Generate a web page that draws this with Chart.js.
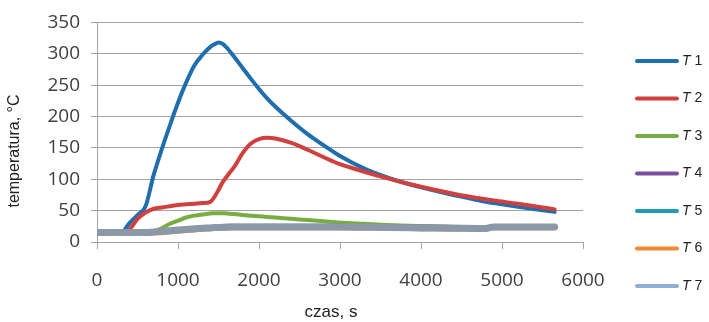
<!DOCTYPE html>
<html>
<head>
<meta charset="utf-8">
<script src="https://cdn.jsdelivr.net/npm/chart.js@4.4.1/dist/chart.umd.min.js"></script>
<style>
  html, body { margin:0; padding:0; background:#fff; }
  #wrap { width:709px; height:322px; position:relative; }
</style>
</head>
<body>
<div id="wrap"><canvas id="chart"></canvas></div>
<script>
// ===== Data =====
const TIME = [0,300,400,500,600,700,800,900,1000,1100,1200,1300,1400,1450,1500,1550,1600,1700,1800,1900,
              2000,2100,2200,2400,2600,2800,3000,3300,3600,4000,4400,4800,4900,5200,5650];

const T1 = [15,15,30,43,57,107,148,186,222,254,281,298,311,315,318,316,310,294,277,260,
            244,229,216,193,172,154,137,117,102,87,75,64,62,56,48];
const T2 = [15,15,20,37,47,53,55,57,59,60,61,62,64,72,83,95,104,121,142,157,
            164,166,165,158,147,135,124,112,101,88,77,68,66,61,52];
const T3 = [15,15,15,15,15,17,22,29,34,39,42,44,45.5,46,46,46,45.5,44.5,43,42,
            41,40,39,37,35,33,31,29,27,25.5,24.5,23.5,23.5,23.5,23.5];
const T4 = [15,15,15,15,15,16,17,19,20,21,22,23,24,24.5,25,25.5,26,26,26,26,
            26,26,26,26,26,26,26,25,25,24.5,24,23,25,25,25];
const T5 = [15,15,15,15,15,15.5,16,17,18,19,20,21,21.5,22,22,22.5,23,23,23,23,
            23,23,23,23,23,23,23,22.5,22,21.5,21,21,23,23,23];
const T6 = [14,14,14,14,13.5,13.5,14,15,16.5,17.5,18.5,19.5,20.5,21,21,21.5,21.5,22,22,22,
            22,22,22,22,22,22,22,21.5,21,20.5,20,20,22,22,22];
const T7 = [15,15,15,15,15,16,17,18,19,20,21,22,22.5,23,23,23.5,23.5,24,24,24,
            24,24,24,24,24,24,24,23.5,23,22.5,22,21.5,24,24,24];

const SERIES = [T1, T2, T3, T4, T5, T6, T7];
const NAMES = ["1","2","3","4","5","6","7"];
const COLORS = ["#1f6fae","#d0403f","#78ad41","#7a509d","#1f9bb4","#f08a2f","#8a98a8"];
const LEGEND_COLORS = ["#1f6fae","#d0403f","#78ad41","#7a509d","#1f9bb4","#f08a2f","#8eaed6"];
const X_TICKS = [0,1000,2000,3000,4000,5000,6000];
const Y_MAX = 350;
const X_TITLE = "czas, s";
const Y_TITLE = "temperatura, °C";

// ===== Legend (italic T + number) and axis titles =====
const legendPlugin = {
  id: "sideLegend",
  afterDraw(chart) {
    const ctx = chart.ctx;
    ctx.save();
    NAMES.forEach((n, i) => {
      const y = 61 + i * 37.5;
      ctx.strokeStyle = LEGEND_COLORS[i];
      ctx.lineWidth = 4;
      ctx.lineCap = "round";
      ctx.beginPath(); ctx.moveTo(637, y); ctx.lineTo(677, y); ctx.stroke();
      ctx.fillStyle = "#222";
      ctx.textBaseline = "middle";
      ctx.textAlign = "left";
      ctx.font = "italic 14px 'Liberation Sans'";
      ctx.fillText("T", 682, y);
      const w = ctx.measureText("T").width;
      ctx.font = "14px 'Liberation Sans'";
      ctx.fillText(" " + n, 682 + w, y);
    });
    // axis titles
    ctx.fillStyle = "#222";
    ctx.textAlign = "center";
    ctx.textBaseline = "middle";
    ctx.font = "17px 'Liberation Sans'";
    ctx.fillText(X_TITLE, 331, 312);
    ctx.translate(15, 151);
    ctx.rotate(-Math.PI / 2);
    ctx.font = "16px 'Liberation Sans'";
    ctx.fillText(Y_TITLE, 0, 0);
    ctx.restore();
  }
};

const GRID = "#a3a3a3";

new Chart(document.getElementById("chart"), {
  type: "line",
  data: {
    datasets: SERIES.map((vals, i) => ({
      label: "T " + NAMES[i],
      data: TIME.map((t, k) => ({ x: t, y: vals[k] })),
      borderColor: COLORS[i],
      borderWidth: i === 6 ? 7 : 4,
      borderCapStyle: "round",
      pointRadius: 0,
      cubicInterpolationMode: "monotone",
      order: 7 - i
    }))
  },
  options: {
    responsive: true, maintainAspectRatio: false, animation: false,
    layout: { padding: { top: 13, right: 126, bottom: 0, left: 0 } },
    plugins: { legend: { display: false }, tooltip: { enabled: false } },
    scales: {
      x: {
        type: "linear", min: 0, max: 6000,
        afterBuildTicks: s => { s.ticks = X_TICKS.map(v => ({ value: v })); },
        afterFit: s => { s.height = 80; },
        grid: { drawOnChartArea: false, drawTicks: true, tickLength: 7, color: GRID },
        border: { display: true, color: GRID },
        ticks: { padding: 20, color: "#404040", font: { family: "'Open Sans'", size: 19 }, maxRotation: 0,
                 callback: v => String(v) }
      },
      y: {
        min: 0, max: Y_MAX,
        ticks: { stepSize: 50, padding: 11, color: "#404040", font: { family: "'Open Sans'", size: 19 },
                 callback: v => String(v) },
        afterFit: s => { s.width = 97; },
        grid: { color: GRID, tickLength: 6 },
        border: { display: true, color: GRID }
      }
    }
  },
  plugins: [legendPlugin]
});
</script>
</body>
</html>
